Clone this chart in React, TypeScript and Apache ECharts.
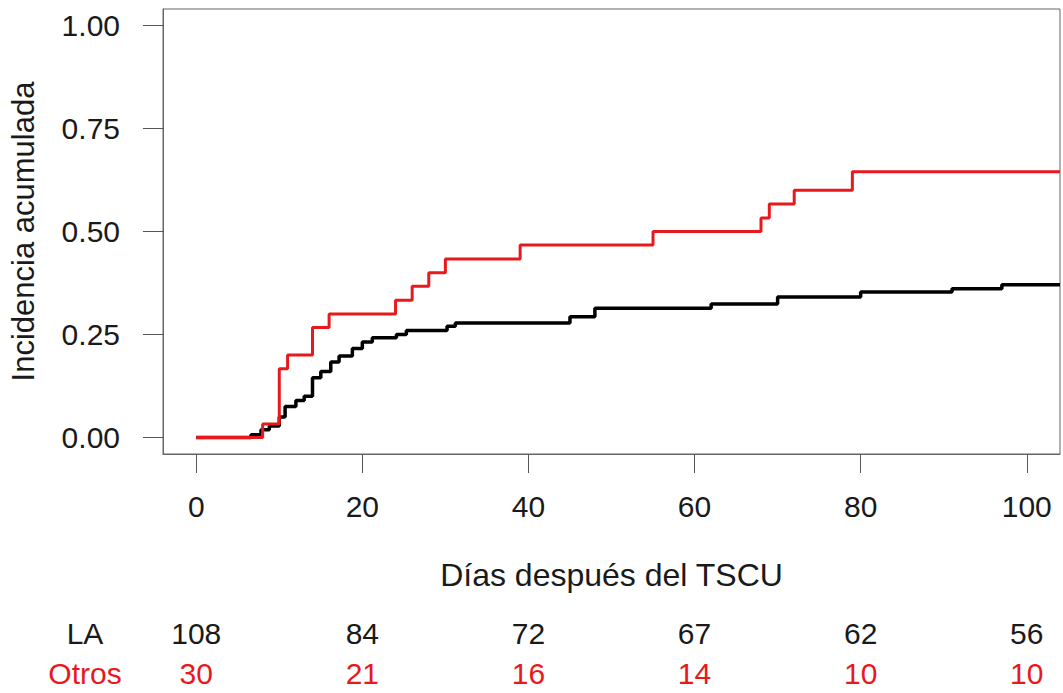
import React, { useEffect, useRef } from "react";
import * as echarts from "echarts";

const xTicks = [0, 20, 40, 60, 80, 100];
const yTicks = [0, 0.25, 0.5, 0.75, 1];

const laTimes = [0, 6.6, 7.8, 8.8, 10, 10.7, 12, 13, 14, 15, 16.2, 17.2, 18.8, 20, 21.2, 24.1, 25.3, 30.2, 31.2, 45, 48, 62, 70, 80, 91, 97, 104];
const laCif = [0, 0.007, 0.019, 0.028, 0.05, 0.075, 0.09, 0.1, 0.145, 0.16, 0.183, 0.198, 0.216, 0.232, 0.242, 0.25, 0.26, 0.27, 0.278, 0.293, 0.314, 0.324, 0.341, 0.353, 0.361, 0.371, 0.371];

const otrosTimes = [0, 8, 10, 11, 14, 16, 24, 26, 28, 30, 39, 55, 68, 69, 72, 79, 104];
const otrosCif = [0, 0.033, 0.167, 0.2, 0.267, 0.3, 0.333, 0.367, 0.4, 0.433, 0.467, 0.5, 0.533, 0.567, 0.6, 0.645, 0.645];

const groups = ["LA", "Otros"];
const riskLA = [108, 84, 72, 67, 62, 56];
const riskOtros = [30, 21, 16, 14, 10, 10];

const RED = "#e8191c";
const TEXT = "#1a1a1a";
const FONT = "'Liberation Sans', Arial, sans-serif";
const FS = 30;

export default function App() {
  const ref = useRef<HTMLDivElement>(null);
  useEffect(() => {
    if (!ref.current) return;
    const chart = echarts.init(ref.current, undefined, { renderer: "svg" });
    const laData = laTimes.map((t, i) => [t, laCif[i]]);
    const otData = otrosTimes.map((t, i) => [t, otrosCif[i]]);
    const riskLAData = xTicks.map((t, i) => [t, "LA", riskLA[i]]);
    const riskOtData = xTicks.map((t, i) => [t, "Otros", riskOtros[i]]);
    const riskLabel = (color: string) => ({
      show: true,
      position: "inside",
      formatter: (p: any) => String(p.value[2]),
      fontSize: FS,
      color,
      opacity: 1,
      fontFamily: FONT,
    });
    chart.setOption({
      animation: false,
      textStyle: { fontFamily: FONT },
      grid: [
        { left: 163, right: 3, top: 9, height: 445, show: true, borderColor: "#666", borderWidth: 1, backgroundColor: "transparent" },
        { left: 163, right: 3, top: 613, height: 84 },
      ],
      xAxis: [
        {
          type: "value",
          gridIndex: 0,
          min: -4,
          max: 104,
          name: "Días después del TSCU",
          nameLocation: "middle",
          nameGap: 105,
          nameTextStyle: { fontSize: 32, color: TEXT, fontFamily: FONT },
          axisLine: { show: true, onZero: false, lineStyle: { color: "#666" } },
          axisTick: { show: true, length: 19, customValues: xTicks, lineStyle: { color: "#555" } },
          axisLabel: { show: true, customValues: xTicks, margin: 37, fontSize: FS, color: TEXT, fontFamily: FONT },
          splitLine: { show: false },
        },
        { type: "value", gridIndex: 1, min: -4, max: 104, show: false },
      ],
      yAxis: [
        {
          type: "value",
          gridIndex: 0,
          min: -0.04,
          max: 1.04,
          name: "Incidencia acumulada",
          nameLocation: "middle",
          nameGap: 124,
          nameTextStyle: { fontSize: 31, color: TEXT, fontFamily: FONT },
          axisLine: { show: true, onZero: false, lineStyle: { color: "#666" } },
          axisTick: { show: true, length: 20, customValues: yTicks, lineStyle: { color: "#555" } },
          axisLabel: {
            show: true,
            customValues: yTicks,
            margin: 43,
            fontSize: FS,
            color: TEXT,
            fontFamily: FONT,
            formatter: (v: number) => v.toFixed(2),
          },
          splitLine: { show: false },
        },
        {
          type: "category",
          gridIndex: 1,
          data: groups,
          inverse: true,
          axisLine: { show: false },
          axisTick: { show: false },
          splitLine: { show: false },
          axisLabel: {
            margin: 78,
            align: "center",
            fontSize: FS,
            fontFamily: FONT,
            formatter: (v: string) => (v === "LA" ? `{la|${v}}` : `{ot|${v}}`),
            rich: {
              la: { color: TEXT, fontSize: FS, fontFamily: FONT },
              ot: { color: RED, fontSize: FS, fontFamily: FONT },
            },
          },
        },
      ],
      series: [
        {
          type: "line",
          name: "LA",
          xAxisIndex: 0,
          yAxisIndex: 0,
          step: "end",
          showSymbol: false,
          symbol: "none",
          data: laData,
          lineStyle: { color: "#000", width: 3.5 },
          itemStyle: { color: "#000" },
        },
        {
          type: "line",
          name: "Otros",
          xAxisIndex: 0,
          yAxisIndex: 0,
          step: "end",
          showSymbol: false,
          symbol: "none",
          data: otData,
          lineStyle: { color: RED, width: 3 },
          itemStyle: { color: RED },
        },
        {
          type: "scatter",
          xAxisIndex: 1,
          yAxisIndex: 1,
          symbolSize: 1,
          itemStyle: { color: "#fff", opacity: 1 },
          data: riskLAData,
          label: riskLabel(TEXT),
        },
        {
          type: "scatter",
          xAxisIndex: 1,
          yAxisIndex: 1,
          symbolSize: 1,
          itemStyle: { color: "#fff", opacity: 1 },
          data: riskOtData,
          label: riskLabel(RED),
        },
      ],
    });
    return () => chart.dispose();
  }, []);
  return (
    <div
      ref={ref}
      style={{ position: "absolute", left: 0, top: 0, width: 1063, height: 693, background: "#fff" }}
    />
  );
}
